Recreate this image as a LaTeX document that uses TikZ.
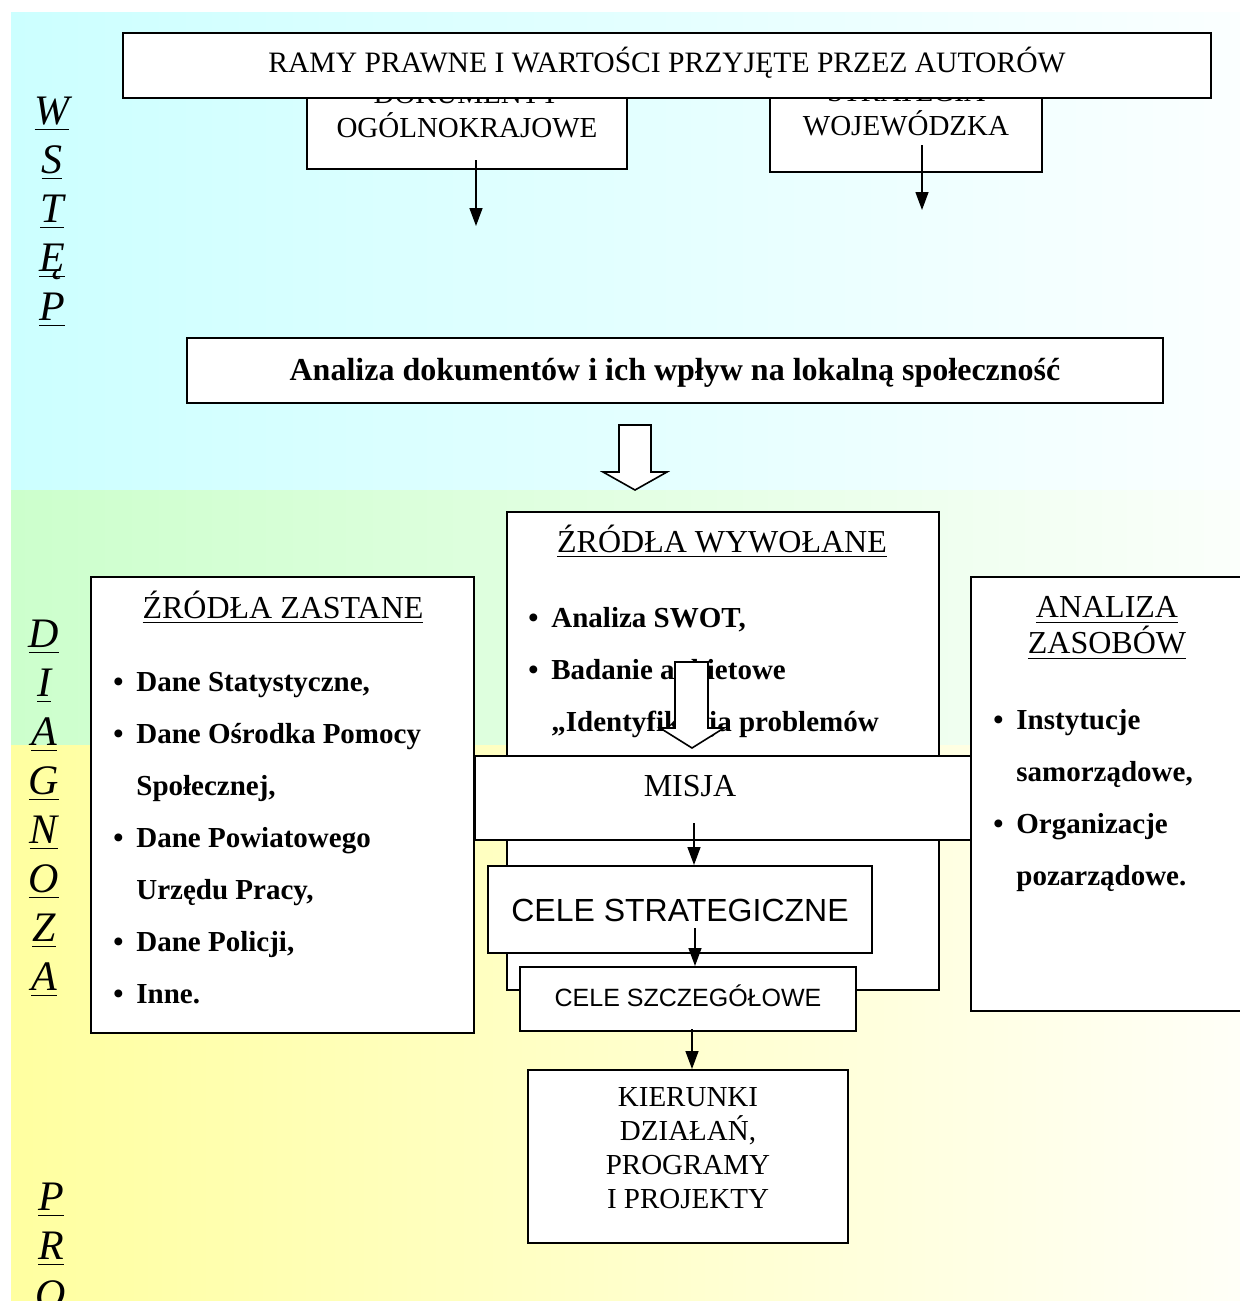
\documentclass[tikz,border=0pt]{standalone}
\usepackage{fontspec}
\setmainfont{Liberation Serif}
\newfontfamily\arialfont{Liberation Sans}
\usetikzlibrary{arrows.meta,fit}

\definecolor{wstepbg}{HTML}{CCFFFF}
\definecolor{diagbg}{HTML}{CCFFCC}
\definecolor{progbg}{HTML}{FFFFA0}
\newcommand{\pkt}{\makebox[11.5pt][l]{\textbullet}}
\newcommand{\wc}{\hspace*{11.5pt}}
\newcommand{\podkr}[1]{\setbox0=\hbox{#1}\rlap{\rule[-2.6pt]{\wd0}{0.7pt}}\box0}

\begin{document}
\begin{tikzpicture}[x=0.5pt,y=-0.5pt,
  box/.style={draw,line width=1pt,fill=white,inner sep=0},
  band/.style={left color=#1,right color=#1!8!white,middle color=#1!55!white},
  txt/.style={font=\fontsize{14.5}{17}\selectfont,align=center,inner sep=0},
  title/.style={font=\fontsize{16}{18}\selectfont,align=center,inner sep=0},
  lista/.style={font=\fontsize{14.5}{26}\selectfont\bfseries,align=left,anchor=north west,inner sep=0},
  litery/.style={font=\fontsize{21}{24.5}\selectfont\itshape,align=center,anchor=north,inner sep=0},
  arr/.style={-{Triangle[length=9pt,width=6.5pt]},line width=0.7pt},
  hollow/.style={draw,line width=0.8pt,fill=white,line join=miter}]

\useasboundingbox (0,0) rectangle (1240,1301);

% background bands
\shade[band=wstepbg] (11,12) rectangle (1240,490);
\shade[band=diagbg] (11,490) rectangle (1240,745);
\shade[band=progbg] (11,745) rectangle (1240,1301);

% side letters
\node[litery] (wstep) at (52,97) {\podkr{W}\\\podkr{S}\\\podkr{T}\\\podkr{Ę}\\\podkr{P}};
\node[litery] (diagnoza) at (44,620) {\podkr{D}\\\podkr{I}\\\podkr{A}\\\podkr{G}\\\podkr{N}\\\podkr{O}\\\podkr{Z}\\\podkr{A}};
\node[litery] (prog) at (51,1183) {\podkr{P}\\\podkr{R}\\\podkr{O}};

% documents
\node[box,fit={(307,80) (627,169)}] (dok) {};
\node[txt] (dokt) at (467,111) {DOKUMENTY\\OGÓLNOKRAJOWE};
\node[box,fit={(770,80) (1042,172)}] (woj) {};
\node[txt] (wojt) at (906,109) {STRATEGIA\\WOJEWÓDZKA};
\node[box,fit={(123,33) (1211,98)}] (ramy) {};
\node[txt,anchor=base,font=\fontsize{14.8}{17}\selectfont] (ramyt) at (667,72) {RAMY PRAWNE I WARTOŚCI PRZYJĘTE PRZEZ AUTORÓW};

\coordinate (d1) at (476,160);
\coordinate (w1) at (922,145);
\draw[arr] (d1) -- ++(0,66);
\draw[arr] (w1) -- ++(0,65);

\node[box,fit={(187,338) (1163,403)}] (analiza) {};
\node[title,anchor=base,font=\fontsize{16}{18}\selectfont\bfseries] (analizat) at (675,380) {Analiza dokumentów i ich wpływ na lokalną społeczność};
\draw[hollow] (619,425) -- (651,425) -- (651,472) -- (667,472) -- (635,490) -- (603,472) -- (619,472) -- cycle;

% sources
\node[box,fit={(507,512) (939,990)}] (wywol) {};
\node[title] (wywolt) at (722,541) {\podkr{ŹRÓDŁA WYWOŁANE}};
\node[lista] (wywoll) at (528,607) {\pkt Analiza SWOT,\\\pkt Badanie ankietowe\\\wc „Identyfikacja problemów};

\node[box,fit={(91,577) (474,1033)}] (zastane) {};
\node[title] (zastanet) at (283,607) {\podkr{ŹRÓDŁA ZASTANE}};
\node[lista] (zastanel) at (113,672) {\pkt Dane Statystyczne,\\\pkt Dane Ośrodka Pomocy\\\wc Społecznej,\\\pkt Dane Powiatowego\\\wc Urzędu Pracy,\\\pkt Dane Policji,\\\pkt Inne.};

\node[box,fit={(971,577) (1260,1011)}] (zasoby) {};
\node[title] (zasobyt) at (1107,628) {\podkr{ANALIZA}\\\podkr{ZASOBÓW}};
\node[lista] (zasobyl) at (993,709) {\pkt Instytucje\\\wc samorządowe,\\\pkt Organizacje\\\wc pozarządowe.};

\draw[hollow] (675,662) -- (708,662) -- (708,728) -- (724,728) -- (692,748) -- (660,728) -- (675,728) -- cycle;

% strategy
\node[box,fit={(475,756) (971,840)}] (misja) {};
\node[title] (misjat) at (690,786) {MISJA};
\node[box,fit={(488,866) (872,953)}] (cs) {};
\node[anchor=base,inner sep=0,font=\arialfont\fontsize{16}{18}\selectfont] (cst) at (680,921) {CELE STRATEGICZNE};
\node[box,fit={(520,967) (856,1031)}] (csz) {};
\node[anchor=base,inner sep=0,font=\arialfont\fontsize{12.5}{15}\selectfont] (cszt) at (688,1006) {CELE SZCZEGÓŁOWE};
\node[box,fit={(528,1070) (848,1243)}] (kier) {};
\node[txt] (kiert) at (688,1148) {KIERUNKI\\DZIAŁAŃ,\\PROGRAMY\\I PROJEKTY};

\coordinate (m1) at (694,823);
\coordinate (c1) at (695,928);
\coordinate (z1) at (692,1029);
\draw[arr] (m1) -- (m1 |- cs.north);
\draw[arr] (c1) -- (c1 |- csz.north);
\draw[arr] (z1) -- (z1 |- kier.north);

\end{tikzpicture}
\end{document}
